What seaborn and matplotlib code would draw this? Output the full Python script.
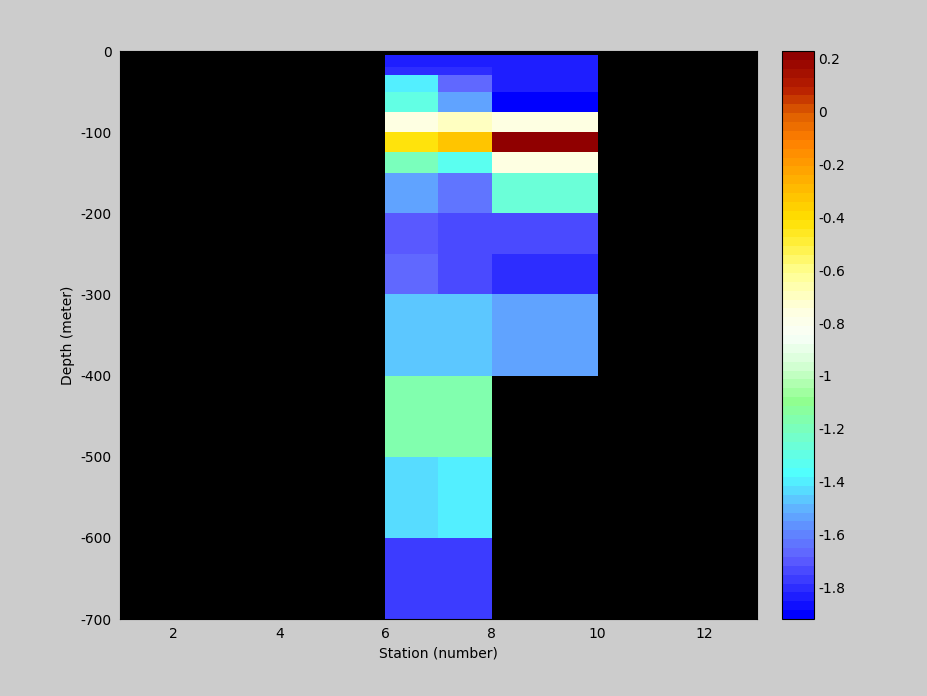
import numpy as np
import matplotlib
matplotlib.use("Agg")
import matplotlib.pyplot as plt
import seaborn as sns
from matplotlib.colors import LinearSegmentedColormap

# grid edges (station number, depth in meter)
station_edges = [6, 7, 8, 10]
depth_edges = [-5, -20, -30, -50, -75, -100, -125, -150, -200, -250, -300, -400, -500, -600, -700]

# values per station column, top to bottom
col_st6 = [-1.82, -1.80, -1.40, -1.30, -0.76, -0.42, -1.19, -1.55, -1.71, -1.68, -1.47, -1.18, -1.44, -1.76]
col_st7 = [-1.82, -1.80, -1.67, -1.52, -0.70, -0.32, -1.33, -1.63, -1.74, -1.72, -1.47, -1.18, -1.40, -1.76]
col_st8 = [-1.85, -1.85, -1.85, -1.91, -0.76, 0.20, -0.76, -1.26, -1.74, -1.80, -1.55, np.nan, np.nan, np.nan]

vmin, vmax = -1.92, 0.23
cbar_ticks = [0.2, 0, -0.2, -0.4, -0.6, -0.8, -1, -1.2, -1.4, -1.6, -1.8]

# custom blue-white-red map, anchors as (value, colour)
anchors = [
    (-1.92, "#0000ff"),
    (-1.70, "#6060ff"),
    (-1.60, "#6088ff"),
    (-1.50, "#60b8ff"),
    (-1.45, "#58d8ff"),
    (-1.38, "#50ffff"),
    (-1.25, "#70ffd0"),
    (-1.10, "#90ff90"),
    (-0.95, "#d8ffd8"),
    (-0.85, "#f8fff8"),
    (-0.75, "#ffffe0"),
    (-0.60, "#ffff90"),
    (-0.50, "#fff040"),
    (-0.40, "#ffe000"),
    (-0.25, "#ffb000"),
    (-0.10, "#ff8000"),
    (0.00, "#e06000"),
    (0.10, "#b82000"),
    (0.23, "#900000"),
]
cmap = LinearSegmentedColormap.from_list(
    "bwr_custom", [((v - vmin) / (vmax - vmin), c) for v, c in anchors], N=64)

sns.set_style("ticks")
plt.rcParams['font.family'] = ['DejaVu Sans']
plt.rcParams['axes.unicode_minus'] = False
plt.rcParams['text.color'] = 'black'
plt.rcParams['axes.labelcolor'] = 'black'

fig = plt.figure(figsize=(9.28, 6.96), dpi=100, facecolor="#cccccc")
ax = fig.add_axes([0.1293, 0.1106, 0.6864, 0.8161])
cax = fig.add_axes([0.8423, 0.1106, 0.0351, 0.8161])

values = np.ma.masked_invalid(np.array([col_st6, col_st7, col_st8]).T)
mesh = ax.pcolormesh(station_edges, depth_edges, values, cmap=cmap,
                     vmin=vmin, vmax=vmax, shading="flat")

ax.set_facecolor("black")
ax.set_xlim(1, 13)
ax.set_ylim(-700, 0)
ax.set_xticks(range(2, 13, 2))
ax.set_yticks(range(-700, 1, 100))
ax.tick_params(labelsize=10, colors="black", labelcolor="black", direction="in", length=0, pad=6)
ax.set_xlabel("Station (number)", fontsize=10, color="black")
ax.set_ylabel("Depth (meter)", fontsize=10, color="black")
for s in ax.spines.values():
    s.set_color("black")

cb = fig.colorbar(mesh, cax=cax, ticks=cbar_ticks)
cb.ax.set_yticklabels([f"{t:g}" for t in cbar_ticks])
cb.ax.tick_params(labelsize=10, colors="black", labelcolor="black", direction="in",
                  length=5, left=True, right=True, pad=3)
cb.outline.set_edgecolor("black")

plt.savefig("out.png", dpi=100, facecolor=fig.get_facecolor())
plt.close()
